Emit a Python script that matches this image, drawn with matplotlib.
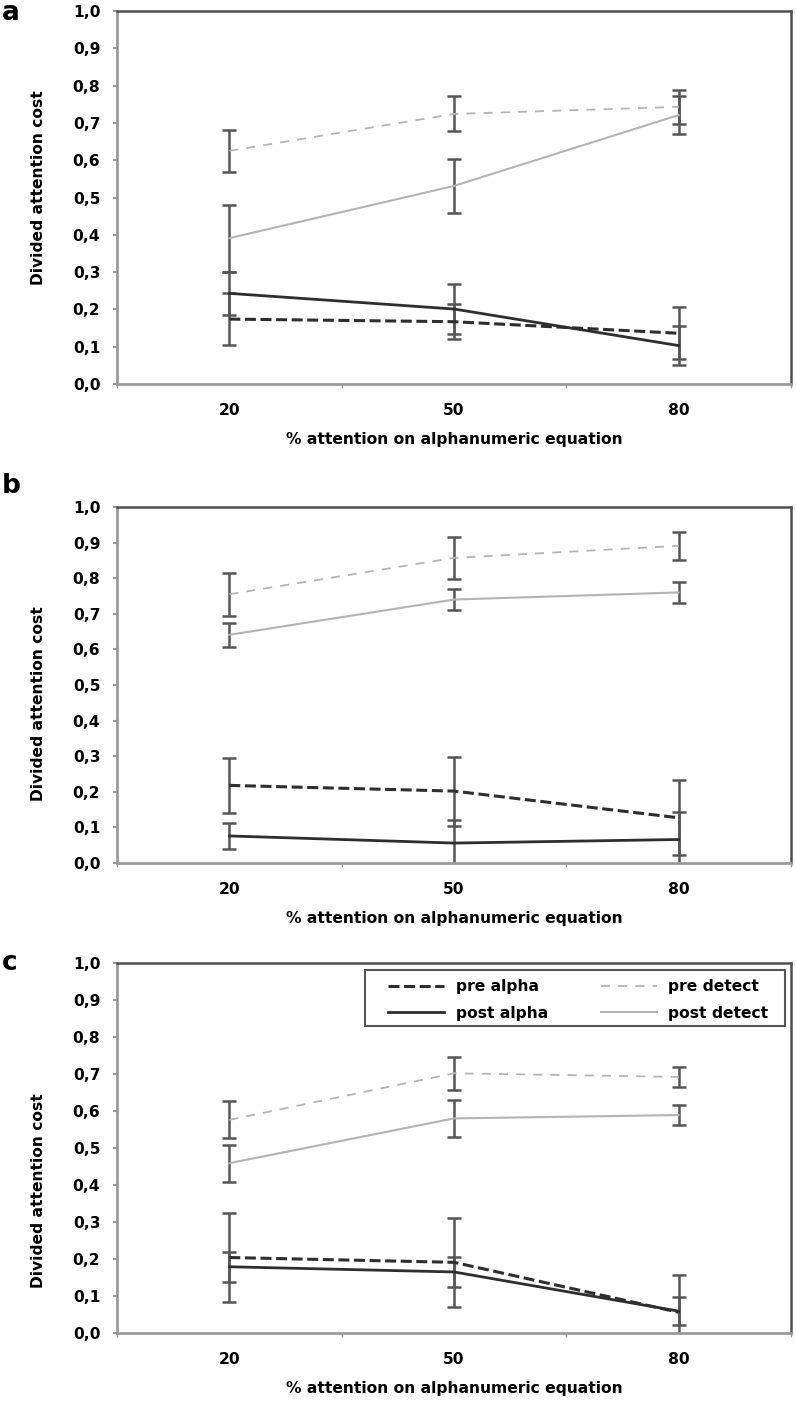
import numpy as np
import matplotlib
matplotlib.use('Agg')
import matplotlib.pyplot as plt
from matplotlib.patches import Rectangle

plt.rcParams['font.family'] = ['DejaVu Sans']
plt.rcParams['font.weight'] = 'bold'

categories = ['20', '50', '80']
series = ['pre alpha', 'post alpha', 'pre detect', 'post detect']

# panel a
a_pre_alpha = [0.174, 0.167, 0.136]
a_pre_alpha_err = [0.070, 0.047, 0.070]
a_post_alpha = [0.243, 0.201, 0.103]
a_post_alpha_err = [0.057, 0.067, 0.053]
a_pre_detect = [0.625, 0.724, 0.743]
a_pre_detect_err = [0.056, 0.047, 0.045]
a_post_detect = [0.391, 0.531, 0.721]
a_post_detect_err = [0.090, 0.072, 0.052]

# panel b
b_pre_alpha = [0.218, 0.202, 0.127]
b_pre_alpha_err = [0.078, 0.097, 0.105]
b_post_alpha = [0.076, 0.056, 0.066]
b_post_alpha_err = [0.036, 0.065, 0.076]
b_pre_detect = [0.755, 0.857, 0.891]
b_pre_detect_err = [0.060, 0.059, 0.040]
b_post_detect = [0.641, 0.740, 0.760]
b_post_detect_err = [0.033, 0.030, 0.030]

# panel c
c_pre_alpha = [0.204, 0.191, 0.056]
c_pre_alpha_err = [0.120, 0.120, 0.100]
c_post_alpha = [0.179, 0.165, 0.059]
c_post_alpha_err = [0.040, 0.040, 0.037]
c_pre_detect = [0.576, 0.702, 0.692]
c_pre_detect_err = [0.050, 0.045, 0.028]
c_post_detect = [0.459, 0.580, 0.589]
c_post_detect_err = [0.050, 0.049, 0.028]

# letter, (top, bottom) px, ylabel centre px, letter baseline px, data
panels = [
    ('a', (11, 384), 188, 20, [(a_pre_alpha, a_pre_alpha_err), (a_post_alpha, a_post_alpha_err),
                               (a_pre_detect, a_pre_detect_err), (a_post_detect, a_post_detect_err)]),
    ('b', (507, 863), 704, 493, [(b_pre_alpha, b_pre_alpha_err), (b_post_alpha, b_post_alpha_err),
                                 (b_pre_detect, b_pre_detect_err), (b_post_detect, b_post_detect_err)]),
    ('c', (963, 1333), 1191, 970, [(c_pre_alpha, c_pre_alpha_err), (c_post_alpha, c_post_alpha_err),
                                   (c_pre_detect, c_pre_detect_err), (c_post_detect, c_post_detect_err)]),
]

dark = '#2e2e2e'
light = '#b4b4b4'
styles = [
    dict(color=dark, lw=2.2, ls=(0, (3.6, 1.5))),
    dict(color=dark, lw=2.0, ls='-'),
    dict(color=light, lw=1.3, ls=(0, (5, 4.5))),
    dict(color=light, lw=1.5, ls='-'),
]

W, H = 796, 1403
fig = plt.figure(figsize=(W / 100, H / 100), dpi=100)
x = np.arange(1, len(categories) + 1)
left, right = 117, 791
fs = 11.2

for letter, (top, bottom), ylab_y, let_y, data in panels:
    h_px = bottom - top
    ax = fig.add_axes([left / W, 1 - bottom / H, (right - left) / W, h_px / H])
    handles = []
    for (vals, err), st, name in zip(data, styles, series):
        h, = ax.plot(x, vals, label=name, zorder=3, **st)
        handles.append(h)
        ax.errorbar(x, vals, yerr=err, fmt='none', ecolor='#555555', elinewidth=1.8,
                    capsize=5, capthick=1.8, zorder=2)
    ax.set_xlim(0.5, 3.5)
    ax.set_ylim(0, 1)
    ax.set_yticks(np.arange(0, 1.01, 0.1))
    ax.set_yticklabels([f'{v:.1f}'.replace('.', ',') for v in np.arange(0, 1.01, 0.1)])
    ax.set_xticks(x)
    ax.set_xticklabels(categories)
    ax.set_xticks([0.5, 1.5, 2.5, 3.5], minor=True)
    ax.tick_params(axis='x', which='major', length=0, pad=14, labelsize=fs)
    ax.tick_params(axis='x', which='minor', length=3, width=1, color='#999999')
    ax.tick_params(axis='y', length=3, width=1.5, color='#999999', pad=9, labelsize=fs)
    for s in ['left', 'bottom']:
        ax.spines[s].set_color('#9a9a9a')
        ax.spines[s].set_linewidth(2)
    for s in ['top', 'right']:
        ax.spines[s].set_color('#505050')
        ax.spines[s].set_linewidth(1.8)
    ax.set_ylabel('Divided attention cost', fontsize=fs, fontweight='bold')
    ax.yaxis.set_label_coords(-0.105, (bottom - ylab_y) / h_px)
    ax.set_xlabel('% attention on alphanumeric equation', fontsize=fs, fontweight='bold')
    ax.xaxis.set_label_coords(0.5, -48 / h_px)
    fig.text(2 / W, 1 - let_y / H, letter,
             fontsize=19, fontweight='bold', va='baseline', ha='left')
    if letter == 'c':
        ax.legend(handles=handles, ncol=2, loc='upper left',
                  bbox_to_anchor=((388 - left) / (right - left), (bottom - 979) / h_px),
                  borderaxespad=0, frameon=False,
                  handlelength=3.6, handletextpad=0.75, columnspacing=3.4,
                  labelspacing=0.75, borderpad=0,
                  prop=dict(size=fs, weight='bold'))
        ax.add_patch(Rectangle(((365 - left) / (right - left), (bottom - 1026) / h_px),
                               (785 - 365) / (right - left), 56 / h_px,
                               transform=ax.transAxes, fill=False, edgecolor='#555555',
                               lw=1.5, zorder=5))

fig.savefig('out.png', dpi=100)
